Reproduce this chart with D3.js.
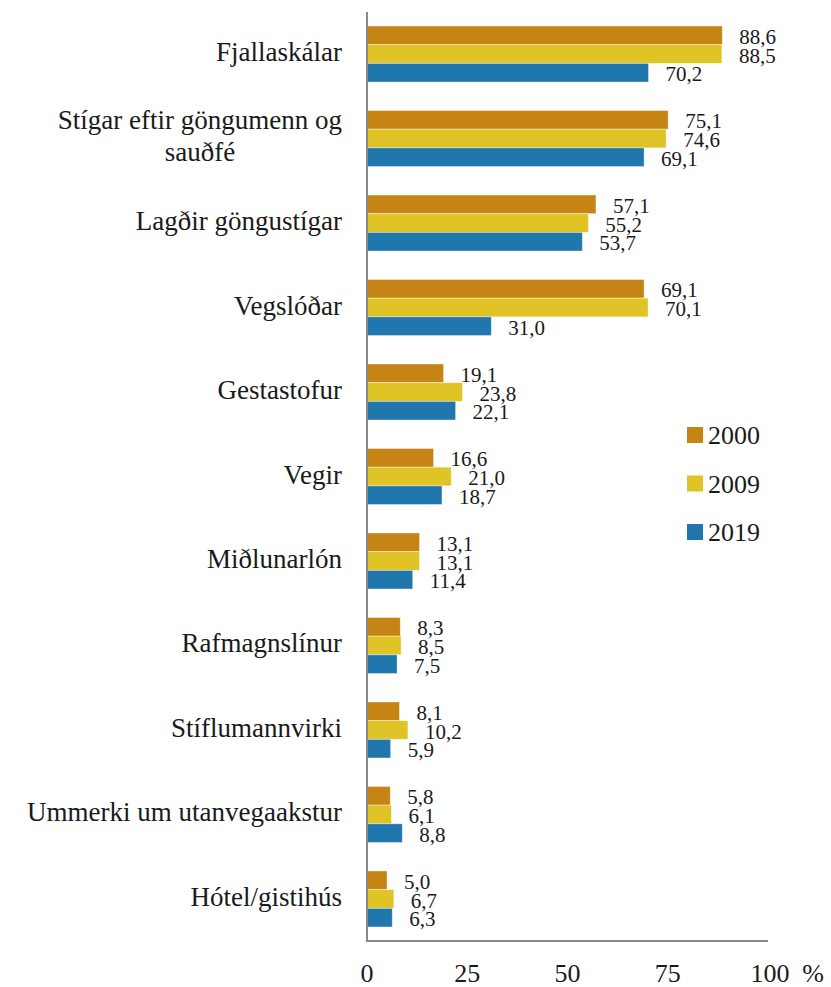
<!DOCTYPE html>
<html><head><meta charset="utf-8">
<script src="https://cdn.jsdelivr.net/npm/d3@7"></script>
<style>
body{margin:0;background:#fff;font-family:"Liberation Serif",serif}
svg{display:block}
svg text{font-family:"Liberation Serif","Times New Roman",serif}
</style>
</head><body>
<script>
const categories = ["Fjallaskálar","Stígar eftir göngumenn og sauðfé","Lagðir göngustígar","Vegslóðar","Gestastofur","Vegir","Miðlunarlón","Rafmagnslínur","Stíflumannvirki","Ummerki um utanvegaakstur","Hótel/gistihús"];
const categoryLines = [["Fjallaskálar"],["Stígar eftir göngumenn og","sauðfé"],["Lagðir göngustígar"],["Vegslóðar"],["Gestastofur"],["Vegir"],["Miðlunarlón"],["Rafmagnslínur"],["Stíflumannvirki"],["Ummerki um utanvegaakstur"],["Hótel/gistihús"]];
const seriesNames = ["2000","2009","2019"];
const values2000 = [88.6,75.1,57.1,69.1,19.1,16.6,13.1,8.3,8.1,5.8,5.0];
const values2009 = [88.5,74.6,55.2,70.1,23.8,21.0,13.1,8.5,10.2,6.1,6.7];
const values2019 = [70.2,69.1,53.7,31.0,22.1,18.7,11.4,7.5,5.9,8.8,6.3];
const xTicks = [0,25,50,75,100];
const colors = ["#C58414","#E0C425","#1F77AE"];

const W=831,H=987;
const svg=d3.select("body").append("svg").attr("width",W).attr("height",H);
const x=d3.scaleLinear().domain([0,100]).range([367,768]);
const y=d3.scaleBand().domain(categories).range([12,941]).paddingInner(0.337).paddingOuter(0.166);
const ys=d3.scaleBand().domain(seriesNames).range([0,y.bandwidth()]);
const series=[values2000,values2009,values2019];

const g=svg.append("g");
series.forEach((vals,si)=>{
  g.selectAll(null).data(categories).enter().append("rect")
    .attr("x",x(0)).attr("y",(c)=>y(c)+ys(seriesNames[si]))
    .attr("width",(c,i)=>x(vals[i])-x(0)).attr("height",ys.bandwidth())
    .attr("fill",colors[si]).attr("stroke","#fff").attr("stroke-opacity",0.5).attr("stroke-width",0.8);
});
series.forEach((vals,si)=>{
  g.selectAll(null).data(categories).enter().append("text")
    .attr("x",(c,i)=>x(vals[i])+17).attr("y",(c)=>y(c)+ys(seriesNames[si])+ys.bandwidth()/2+1)
    .attr("dy","0.36em").attr("font-size",21).attr("fill","#1a1a1a")
    .text((c,i)=>d3.format(".1f")(vals[i]).replace(".",","));
});

// axes lines
svg.append("line").attr("x1",x(0)).attr("x2",x(0)).attr("y1",12).attr("y2",942).attr("stroke","#898989").attr("stroke-width",2);
svg.append("line").attr("x1",x(0)-1).attr("x2",x(100)).attr("y1",941).attr("y2",941).attr("stroke","#898989").attr("stroke-width",2);

// x tick labels
svg.selectAll(null).data(xTicks).enter().append("text")
  .attr("x",d=>x(d)+(d===100?2:0)).attr("y",982).attr("text-anchor","middle")
  .attr("font-size",26).attr("fill","#1a1a1a").text(d=>d);
svg.append("text").attr("x",813).attr("y",982).attr("text-anchor","middle")
  .attr("font-size",26).attr("fill","#1a1a1a").text("%");

// category labels
const labelX=342, catSize=27;
categories.forEach((c,i)=>{
  const lines=categoryLines[i];
  const cy=y(c)+y.bandwidth()/2;
  if(lines.length===1){
    svg.append("text").attr("x",labelX).attr("y",cy+7).attr("text-anchor","end")
      .attr("font-size",catSize).attr("fill","#1a1a1a").text(lines[0]);
  } else {
    const t1=svg.append("text").attr("x",labelX).attr("y",cy-10).attr("text-anchor","end")
      .attr("font-size",catSize).attr("fill","#1a1a1a").text(lines[0]);
    const w=t1.node().getComputedTextLength();
    svg.append("text").attr("x",labelX-w/2).attr("y",cy+22).attr("text-anchor","middle")
      .attr("font-size",catSize).attr("fill","#1a1a1a").text(lines[1]);
  }
});

// legend
const leg=svg.append("g");
seriesNames.forEach((s,i)=>{
  const ly=435+i*48.5;
  leg.append("rect").attr("x",687).attr("y",ly-8).attr("width",16).attr("height",16).attr("fill",colors[i]);
  leg.append("text").attr("x",708).attr("y",ly).attr("dy","0.35em")
    .attr("font-size",26).attr("fill","#1a1a1a").text(s);
});
</script>
</body></html>
